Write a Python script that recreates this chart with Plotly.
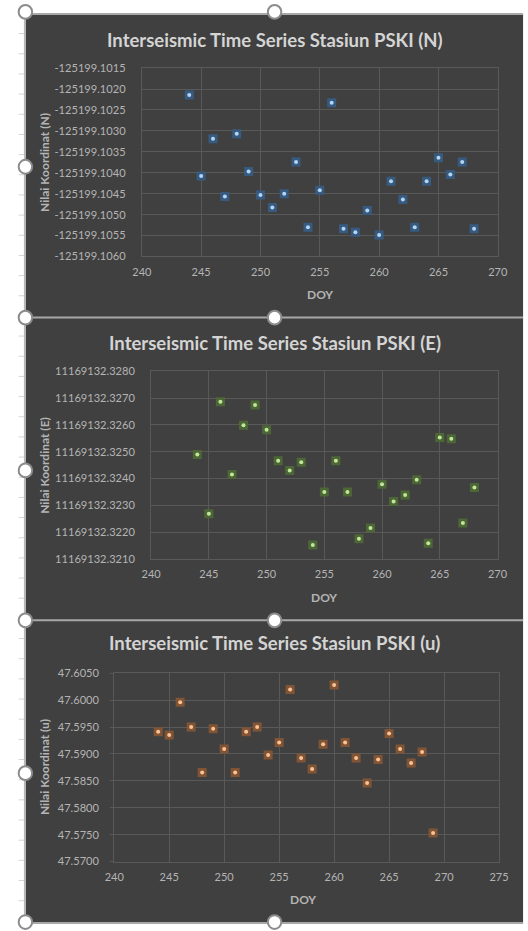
import plotly.graph_objects as go

W, H = 528, 931

# ---- data -------------------------------------------------------------
doy_n = [244, 245, 246, 247, 248, 249, 250, 251, 252, 253, 254, 255, 256,
         257, 258, 259, 260, 261, 262, 263, 264, 265, 266, 267, 268]
north = [-125199.10214, -125199.10408, -125199.10319, -125199.10457, -125199.10307,
         -125199.10397, -125199.10453, -125199.10483, -125199.10450, -125199.10374,
         -125199.10530, -125199.10442, -125199.10233, -125199.10534, -125199.10542,
         -125199.10490, -125199.10549, -125199.10420, -125199.10464, -125199.10530,
         -125199.10420, -125199.10364, -125199.10404, -125199.10374, -125199.10534]

doy_e = [244, 245, 246, 247, 248, 249, 250, 251, 252, 253, 254, 255, 256,
         257, 258, 259, 260, 261, 262, 263, 264, 265, 266, 267, 268]
east = [11169132.32490, 11169132.32269, 11169132.32686, 11169132.32415, 11169132.32599,
        11169132.32674, 11169132.32582, 11169132.32466, 11169132.32430, 11169132.32461,
        11169132.32153, 11169132.32350, 11169132.32466, 11169132.32350, 11169132.32176,
        11169132.32216, 11169132.32379, 11169132.32315, 11169132.32339, 11169132.32396,
        11169132.32159, 11169132.32553, 11169132.32548, 11169132.32235, 11169132.32367]

doy_u = [244, 245, 246, 247, 248, 249, 250, 251, 252, 253, 254, 255, 256,
         257, 258, 259, 260, 261, 262, 263, 264, 265, 266, 267, 268, 269]
up = [47.59413, 47.59352, 47.59963, 47.59500, 47.58657, 47.59468, 47.59094, 47.58657,
      47.59413, 47.59500, 47.58979, 47.59212, 47.60196, 47.58924, 47.58720, 47.59181,
      47.60280, 47.59212, 47.58924, 47.58460, 47.58895, 47.59382, 47.59094, 47.58833,
      47.59035, 47.57532]

n_ticks = ["-125199.1015", "-125199.1020", "-125199.1025", "-125199.1030", "-125199.1035",
           "-125199.1040", "-125199.1045", "-125199.1050", "-125199.1055", "-125199.1060"]
e_ticks = ["11169132.3280", "11169132.3270", "11169132.3260", "11169132.3250",
           "11169132.3240", "11169132.3230", "11169132.3220", "11169132.3210"]
u_ticks = ["47.6050", "47.6000", "47.5950", "47.5900", "47.5850", "47.5800",
           "47.5750", "47.5700"]
doy_ticks_a = [240, 245, 250, 255, 260, 265, 270]
doy_ticks_b = [240, 245, 250, 255, 260, 265, 270, 275]

titles = ["Interseismic Time Series Stasiun PSKI (N)",
          "Interseismic Time Series Stasiun PSKI (E)",
          "Interseismic Time Series Stasiun PSKI (u)"]
ytitles = ["Nilai Koordinat (N)", "Nilai Koordinat (E)", "Nilai Koordinat (u)"]


# ---- helpers ----------------------------------------------------------
def px(x):
    return x / W


def py(y):
    return 1 - y / H


BG = "#404040"
GRID = "#595959"
TICK = "#b4b4b4"
FONT = "Lato"

# plot boxes in pixels: (left, top, right, bottom)
boxes = [(137, 62, 507, 253), (146.7, 369.3, 506.7, 560), (108.3, 675.7, 508.3, 866.7)]
title_y = [33, 341, 645]

series = [
    (doy_n, north, n_ticks, doy_ticks_a, "#375b80", "#b3d4f2"),
    (doy_e, east, e_ticks, doy_ticks_a, "#4d6636", "#c0e69a"),
    (doy_u, up, u_ticks, doy_ticks_b, "#805434", "#fbc295"),
]

fig = go.Figure()
layout = dict(
    width=W, height=H, margin=dict(l=0, r=0, t=0, b=0),
    paper_bgcolor="white", plot_bgcolor=BG, showlegend=False,
    font=dict(family=FONT, color=TICK, size=10),
)
shapes = []
annotations = []

# chart area backgrounds and frame
shapes.append(dict(type="rect", xref="paper", yref="paper", layer="below",
                   x0=px(16), x1=1.01, y0=py(929), y1=py(7),
                   fillcolor=BG, line=dict(width=0)))
for yy in [7, 315, 622, 929]:
    shapes.append(dict(type="line", xref="paper", yref="paper", layer="above",
                       x0=px(15), x1=1.01, y0=py(yy), y1=py(yy),
                       line=dict(color="#a8a8a8", width=2)))
shapes.append(dict(type="line", xref="paper", yref="paper", layer="above",
                   x0=px(15.5), x1=px(15.5), y0=py(929), y1=py(7),
                   line=dict(color="#b8b8b8", width=2)))
# worksheet row marks on the left margin
r = 27.0
while r < H:
    shapes.append(dict(type="line", xref="paper", yref="paper", layer="below",
                       x0=px(9), x1=px(15), y0=py(r), y1=py(r),
                       line=dict(color="#d4d4d4", width=1)))
    r += 20.45

for i, (xs, ys, yt, xt, halo, dot) in enumerate(series):
    l, t, rr, b = boxes[i]
    sfx = "" if i == 0 else str(i + 1)
    xa, ya = "x" + sfx, "y" + sfx
    yvals = [float(v) for v in yt]
    fig.add_trace(go.Scatter(x=xs, y=ys, mode="markers", xaxis=xa, yaxis=ya,
                             marker=dict(symbol="square", size=9, color=halo,
                                         line=dict(width=0)), hoverinfo="skip"))
    fig.add_trace(go.Scatter(x=xs, y=ys, mode="markers", xaxis=xa, yaxis=ya,
                             marker=dict(symbol="circle", size=4, color=dot,
                                         line=dict(width=0))))
    layout["xaxis" + sfx] = dict(
        domain=[px(l), px(rr)], anchor=ya, range=[xt[0], xt[-1]],
        tickmode="array", tickvals=xt, ticktext=[str(v) for v in xt],
        showgrid=True, gridcolor=GRID, gridwidth=1, zeroline=False,
        showline=True, linecolor=GRID, mirror=True, ticks="",
        ticklabelstandoff=5, tickfont=dict(family=FONT, size=11, color=TICK),
    )
    layout["yaxis" + sfx] = dict(
        domain=[py(b), py(t)], anchor=xa, range=[min(yvals), max(yvals)],
        tickmode="array", tickvals=yvals, ticktext=yt,
        showgrid=True, gridcolor=GRID, gridwidth=1, zeroline=False,
        showline=True, linecolor=GRID, mirror=True,
        ticks="outside" if i == 2 else "", ticklen=3, tickcolor=GRID,
        ticklabelstandoff=13 if i < 2 else 9,
        tickfont=dict(family=FONT, size=11.1, color=TICK),
    )
    annotations.append(dict(text=titles[i], xref="paper", yref="paper",
                            x=px(275), y=py(title_y[i]), showarrow=False,
                            xanchor="center", yanchor="middle",
                            font=dict(family=FONT, size=18.5, color="#d4d4d4", weight="bold")))
    annotations.append(dict(text=ytitles[i], xref="paper", yref="paper",
                            x=px(36), y=py((t + b) / 2), showarrow=False, textangle=-90,
                            xanchor="center", yanchor="middle",
                            font=dict(family=FONT, size=12, color=TICK, weight="bold")))
    annotations.append(dict(text="DOY", xref="paper", yref="paper",
                            x=px((l + rr) / 2 - (4 if i == 2 else 0)), y=py(b + 38.5),
                            showarrow=False, xanchor="center", yanchor="middle",
                            font=dict(family=FONT, size=12, color=TICK, weight="bold")))

# selection handles of the chart objects
handles = [(16, 5), (275, 5), (16, 162), (16, 315), (275, 315), (16, 470),
           (16, 622), (275, 622), (16, 777), (16, 928), (275, 928)]
for cx, cy in handles:
    shapes.append(dict(type="circle", xref="paper", yref="paper", layer="above",
                       x0=px(cx - 7), x1=px(cx + 7), y0=py(cy + 7), y1=py(cy - 7),
                       fillcolor="white", line=dict(color="#8c8c8c", width=2)))

layout["shapes"] = shapes
layout["annotations"] = annotations
fig.update_layout(**layout)
fig.write_html("out.html")
